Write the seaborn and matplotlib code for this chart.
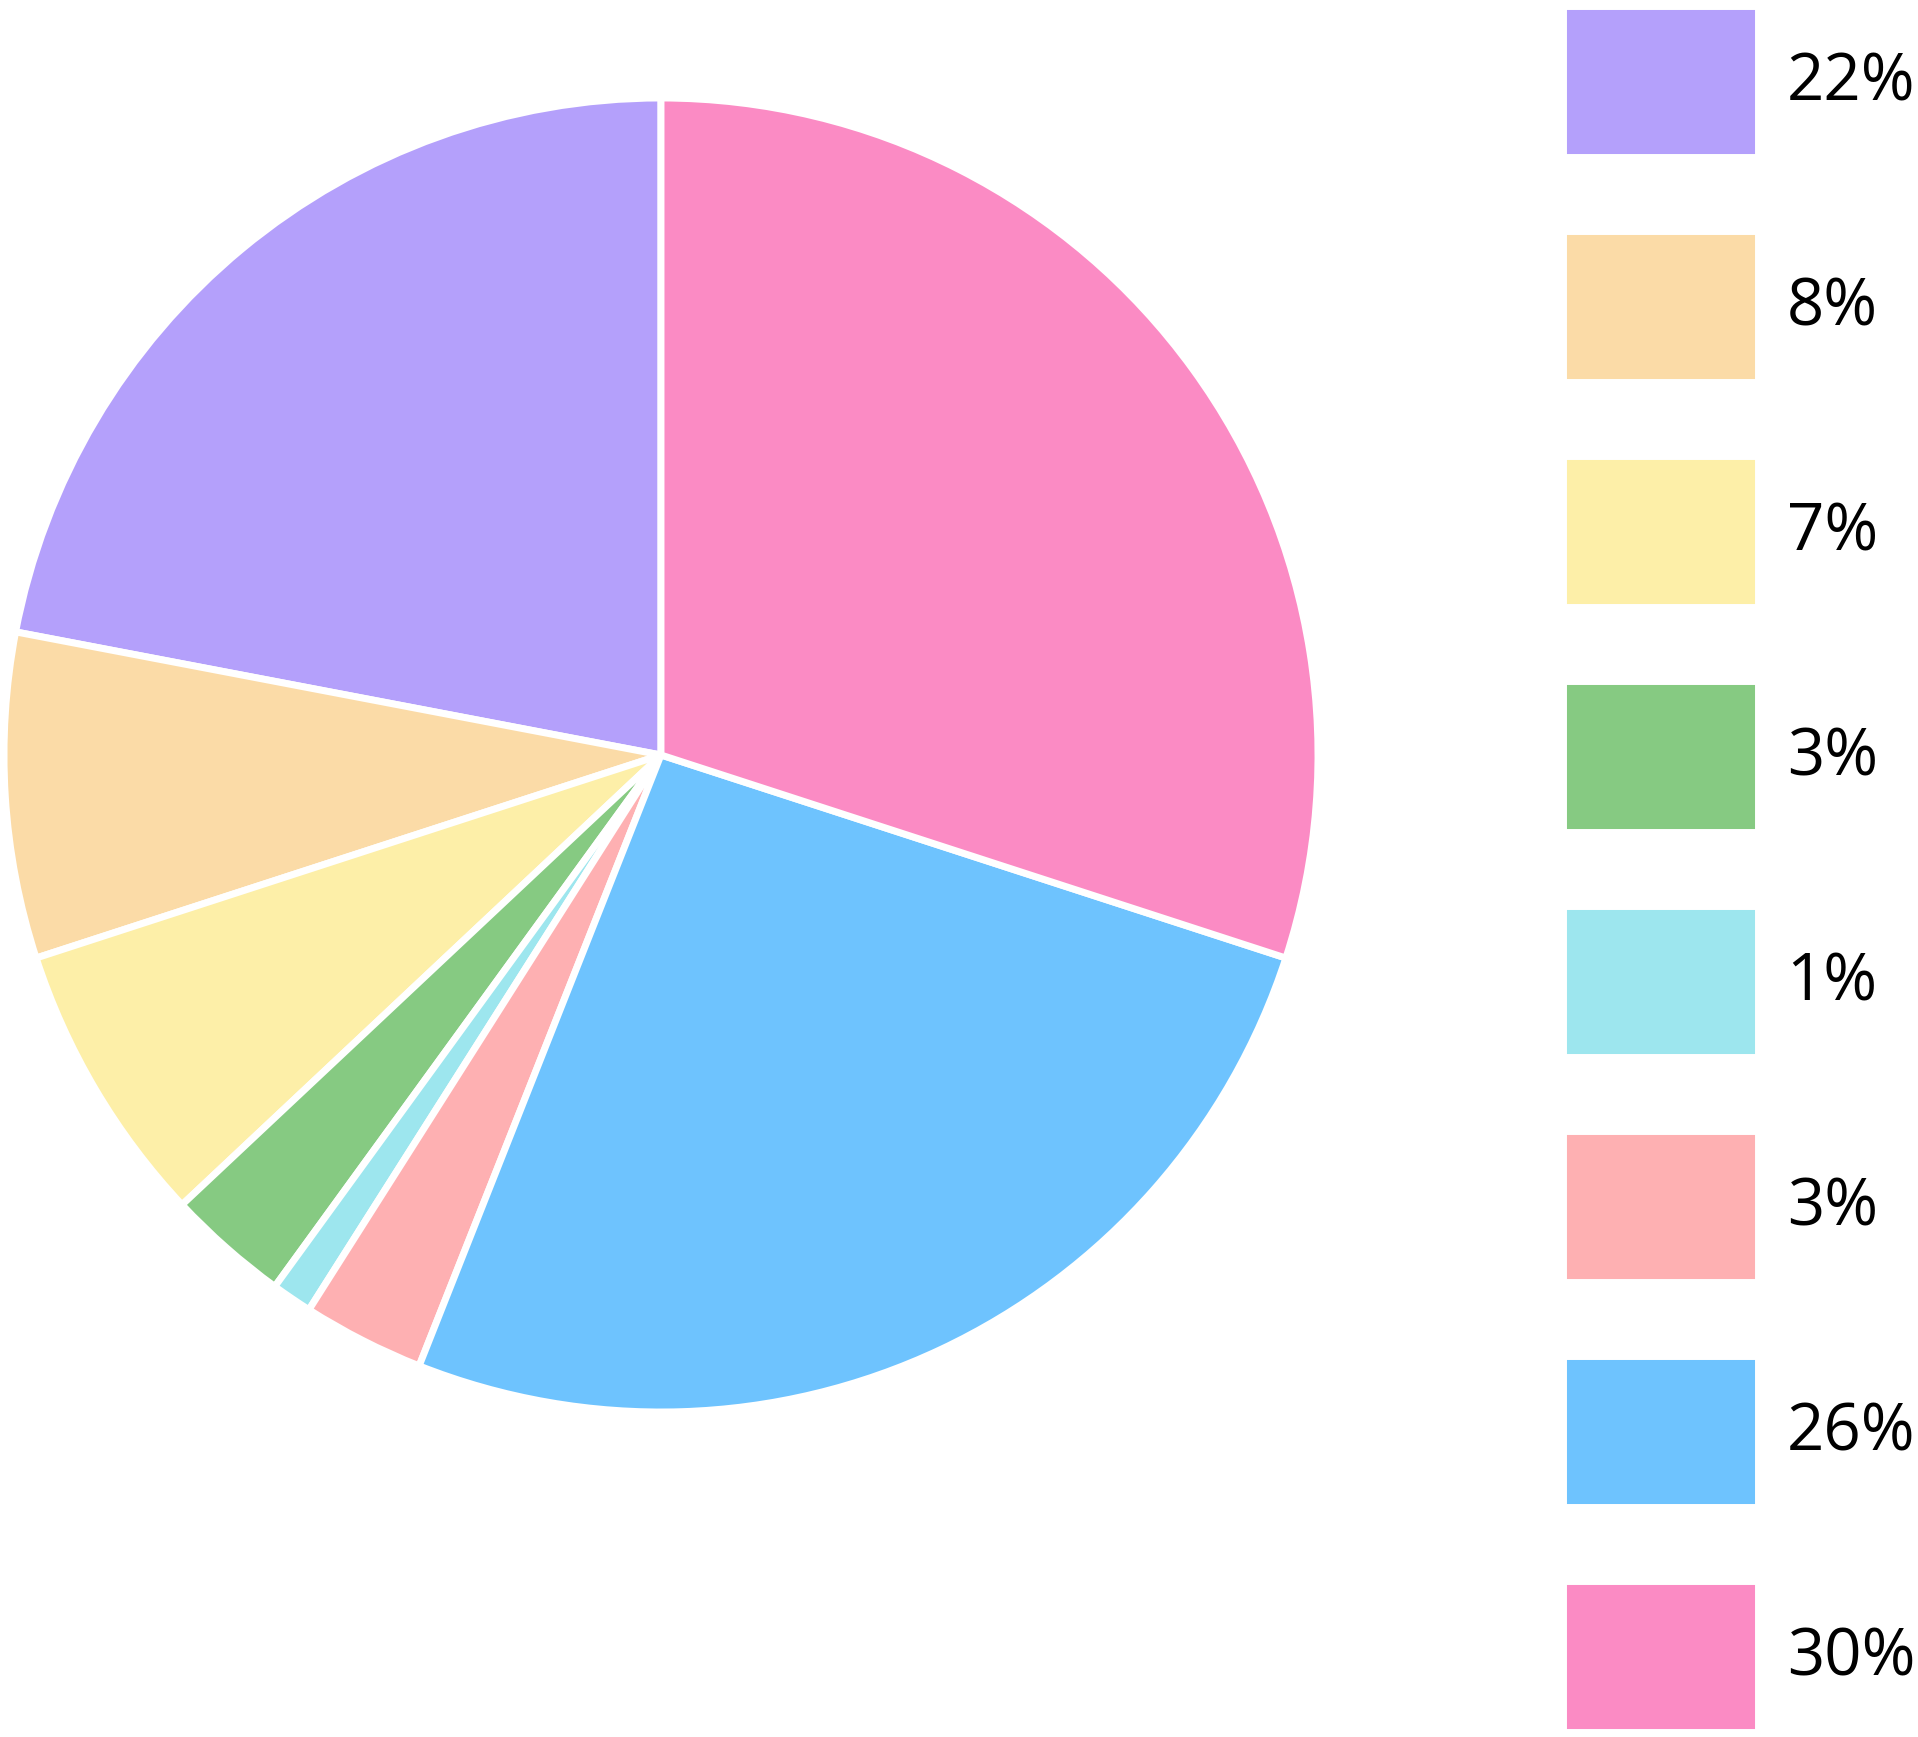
import matplotlib
matplotlib.use("Agg")
import matplotlib.pyplot as plt
import seaborn as sns

# slice values (percent), in drawing order from the top, counter-clockwise
labels = ["22%", "8%", "7%", "3%", "1%", "3%", "26%", "30%"]
values = [22, 8, 7, 3, 1, 3, 26, 30]
colors = ["#b4a0fb", "#fbdba7", "#fdefa8", "#86ca82",
          "#9de6ee", "#feb0b2", "#6ec3fe", "#fb8bc4"]

sns.set_theme(style="white")
plt.rcParams["font.family"] = ["Open Sans", "DejaVu Sans"]

W, H = 1918, 1737
fig = plt.figure(figsize=(W / 100, H / 100), dpi=100)

# pie axes, placed by pixel
cx, cy, r = 661, 755, 657
ax = fig.add_axes([(cx - r) / W, 1 - (cy + r) / H, 2 * r / W, 2 * r / H])
wedges, _ = ax.pie(values, colors=sns.color_palette(colors), startangle=90,
                   counterclock=True, radius=1,
                   wedgeprops=dict(edgecolor="white", linewidth=5))
ax.set_xlim(-1, 1)
ax.set_ylim(-1, 1)
ax.set_aspect("equal")
ax.axis("off")

# legend geometry in pixels (tuned by eye)
fs = 47
fpx = fs * 100 / 72
box_w, box_h, gap, pad = 189, 151, 74, 29
fig.legend(wedges, labels, loc="upper left",
           bbox_to_anchor=(1563 / W, 1 - 6 / H),
           frameon=False, fontsize=fs, labelcolor="black",
           borderpad=0, borderaxespad=0,
           handlelength=box_w / fpx * 1.03,
           handleheight=(box_h / fpx - 0.245) / 0.65,
           labelspacing=gap / fpx,
           handletextpad=pad / fpx)

fig.savefig("out.png", dpi=100, facecolor="white")
